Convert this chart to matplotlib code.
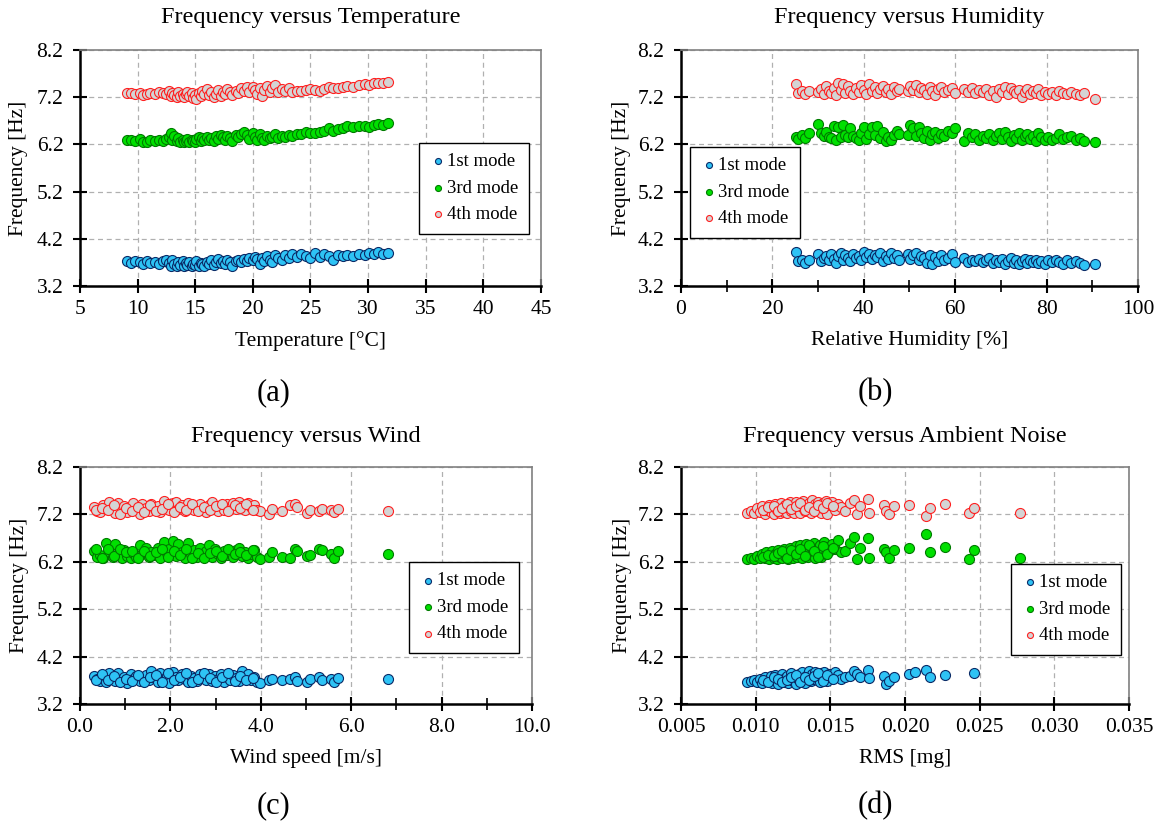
import numpy as np
import matplotlib.pyplot as plt
from matplotlib.ticker import MultipleLocator, FormatStrFormatter

plt.rcParams["font.family"] = ["Liberation Serif", "DejaVu Serif"]

nan = np.nan

# (a) temperature
TEMP = [9.1, 9.4, 9.8, 10.2, 10.5, 10.8, 11.1, 11.5, 11.9, 12.2,
        12.5, 12.7, 12.9, 13.0, 13.2, 13.4, 13.5, 13.7, 13.9, 14.0,
        14.2, 14.3, 14.5, 14.7, 14.8, 15.0, 15.1, 15.3, 15.5, 15.6,
        15.8, 16.0, 16.2, 16.4, 16.6, 16.8, 17.0, 17.2, 17.4, 17.6,
        17.8, 18.0, 18.2, 18.5, 18.7, 19.0, 19.2, 19.5, 19.7, 20.0,
        20.2, 20.4, 20.6, 20.8, 21.0, 21.2, 21.5, 21.7, 21.9, 22.2,
        22.5, 22.8, 23.1, 23.4, 23.8, 24.2, 24.6, 25.0, 25.4, 25.8,
        26.2, 26.6, 27.0, 27.4, 27.8, 28.2, 28.7, 29.2, 29.7, 30.1,
        30.5, 30.9, 31.3, 31.7]
F1_A = [3.72, 3.69, 3.73, 3.70, 3.67, 3.72, 3.68, 3.71, 3.66, 3.72,
        3.74, 3.69, 3.63, 3.75, 3.67, 3.62, 3.70, 3.65, 3.72, 3.62,
        3.68, 3.64, 3.71, 3.62, 3.67, 3.64, 3.72, 3.62, 3.69, 3.66,
        3.63, 3.71, 3.66, 3.74, 3.64, 3.70, 3.77, 3.68, 3.73, 3.66,
        3.75, 3.70, 3.63, 3.72, 3.76, 3.70, 3.78, 3.73, 3.80, 3.74,
        3.82, 3.77, 3.66, 3.79, 3.73, 3.84, 3.76, 3.70, 3.85, 3.79,
        3.74, 3.86, 3.80, 3.87, 3.82, 3.88, 3.84, 3.80, 3.89, 3.82,
        3.88, 3.84, 3.76, 3.86, 3.83, 3.85, 3.84, 3.87, 3.85, 3.90,
        3.88, 3.91, 3.87, 3.89]
F3_A = [6.29, 6.30, 6.28, 6.31, 6.26, 6.25, 6.29, 6.27, 6.30, 6.28,
        6.32, 6.35, 6.44, 6.30, 6.38, 6.27, 6.33, 6.26, 6.30, 6.25,
        6.28, 6.32, 6.26, 6.30, 6.27, 6.24, 6.31, 6.35, 6.27, 6.33,
        6.29, 6.36, 6.30, 6.34, 6.28, 6.37, 6.32, 6.40, 6.35, 6.30,
        6.38, 6.33, 6.27, 6.40, 6.35, 6.42, 6.46, 6.39, 6.31, 6.44,
        6.36, 6.30, 6.43, 6.34, 6.30, 6.38, 6.33, 6.36, 6.43, 6.34,
        6.38, 6.35, 6.40, 6.37, 6.41, 6.43, 6.46, 6.45, 6.44, 6.47,
        6.49, 6.54, 6.48, 6.52, 6.55, 6.59, 6.56, 6.58, 6.59, 6.57,
        6.62, 6.64, 6.60, 6.65]
F4_A = [7.28, 7.29, 7.27, 7.28, 7.25, 7.27, 7.29, 7.26, 7.31, 7.29,
        7.27, 7.32, 7.22, 7.29, 7.25, 7.20, 7.30, 7.23, 7.27, 7.21,
        7.26, 7.30, 7.22, 7.28, 7.19, 7.25, 7.16, 7.29, 7.23, 7.32,
        7.26, 7.38, 7.24, 7.30, 7.20, 7.27, 7.35, 7.22, 7.30, 7.26,
        7.37, 7.31, 7.25, 7.34, 7.28, 7.39, 7.33, 7.41, 7.30, 7.42,
        7.36, 7.27, 7.40, 7.22, 7.35, 7.43, 7.31, 7.39, 7.45, 7.30,
        7.37, 7.32, 7.39, 7.31, 7.34, 7.33, 7.36, 7.38, 7.35, 7.34,
        7.37, 7.42, 7.39, 7.40, 7.41, 7.43, 7.42, 7.46, 7.47, 7.45,
        7.49, 7.51, 7.50, 7.52]

# (b) humidity
HUM = [25.2, 25.6, 26.4, 27.2, 28.0, 30.0, 30.6, 31.2, 31.8, 32.3,
       32.9, 33.4, 33.9, 34.4, 35.0, 35.4, 35.9, 36.5, 37.1, 37.7,
       38.3, 38.9, 39.5, 40.1, 40.6, 41.2, 41.8, 42.4, 43.0, 43.6,
       44.2, 44.8, 45.4, 46.0, 46.6, 47.2, 47.8, 49.6, 50.2, 50.8,
       51.4, 52.0, 52.6, 53.2, 53.8, 54.4, 55.0, 55.6, 56.2, 56.8,
       57.6, 58.4, 59.4, 60.0, 62.0, 62.8, 63.6, 64.4, 65.2, 66.0,
       66.8, 67.5, 68.2, 68.9, 69.6, 70.3, 71.0, 71.6, 72.2, 72.8,
       73.4, 74.0, 74.6, 75.2, 75.8, 76.4, 77.0, 77.6, 78.2, 78.8,
       79.6, 80.4, 81.2, 82.0, 82.8, 83.6, 84.4, 85.4, 86.4, 87.4,
       88.2, 90.5]
F1_B = [3.93, 3.72, 3.76, 3.69, 3.75, 3.87, 3.72, 3.79, 3.84, 3.74,
        3.88, 3.78, 3.69, 3.83, 3.90, 3.76, 3.85, 3.80, 3.73, 3.88,
        3.79, 3.84, 3.75, 3.91, 3.82, 3.87, 3.78, 3.85, 3.81, 3.89,
        3.73, 3.84, 3.77, 3.90, 3.80, 3.86, 3.76, 3.88, 3.78, 3.85,
        3.90, 3.74, 3.83, 3.79, 3.69, 3.86, 3.66, 3.81, 3.72, 3.85,
        3.75, 3.80, 3.88, 3.71, 3.80, 3.70, 3.76, 3.73, 3.78, 3.71,
        3.74, 3.79, 3.68, 3.75, 3.70, 3.77, 3.67, 3.73, 3.79, 3.69,
        3.75, 3.66, 3.72, 3.78, 3.68, 3.74, 3.70, 3.76, 3.69, 3.73,
        3.67, 3.75, 3.71, 3.76, 3.70, 3.66, 3.74, 3.69, 3.72, 3.68,
        3.65, 3.67]
F3_B = [6.35, 6.31, 6.40, 6.33, 6.45, 6.63, 6.45, 6.38, 6.47, 6.36,
        6.34, 6.58, 6.30, 6.57, 6.36, 6.60, 6.40, 6.35, 6.55, 6.38,
        6.34, 6.29, 6.44, 6.56, 6.32, 6.41, 6.57, 6.39, 6.58, 6.33,
        6.46, 6.28, 6.35, 6.29, 6.40, 6.48, 6.43, 6.40, 6.61, 6.55,
        6.37, 6.57, 6.45, 6.33, 6.48, 6.30, 6.41, 6.46, 6.34, 6.43,
        6.38, 6.49, 6.44, 6.55, 6.27, 6.45, 6.35, 6.41, 6.30, 6.38,
        6.33, 6.42, 6.29, 6.38, 6.44, 6.31, 6.47, 6.35, 6.28, 6.40,
        6.34, 6.45, 6.30, 6.37, 6.42, 6.32, 6.38, 6.28, 6.44, 6.35,
        6.30, 6.36, 6.29, 6.33, 6.42, 6.31, 6.35, 6.38, 6.30, 6.33,
        6.27, 6.25]
F4_B = [7.48, 7.29, 7.34, 7.27, 7.33, 7.30, 7.38, 7.27, 7.43, 7.34,
        7.29, 7.40, 7.24, 7.49, 7.35, 7.47, 7.29, 7.43, 7.33, 7.27,
        7.40, 7.30, 7.45, 7.36, 7.27, 7.47, 7.32, 7.42, 7.28, 7.37,
        7.44, 7.30, 7.38, 7.26, 7.42, 7.33, 7.37, 7.32, 7.44, 7.36,
        7.45, 7.30, 7.40, 7.35, 7.27, 7.41, 7.33, 7.24, 7.38, 7.42,
        7.30, 7.36, 7.40, 7.29, 7.37, 7.31, 7.40, 7.28, 7.35, 7.30,
        7.38, 7.25, 7.34, 7.21, 7.37, 7.30, 7.42, 7.26, 7.40, 7.33,
        7.28, 7.36, 7.20, 7.31, 7.38, 7.26, 7.33, 7.29, 7.37, 7.24,
        7.31, 7.27, 7.30, 7.25, 7.32, 7.28, 7.26, 7.30, 7.27, 7.25,
        7.28, 7.16]

# (c) wind speed
WIND = [0.30, 0.38, 0.45, 0.52, 0.58, 0.65, 0.72, 0.78, 0.85, 0.92,
        0.98, 1.05, 1.12, 1.18, 1.25, 1.32, 1.38, 1.45, 1.52, 1.58,
        1.65, 1.72, 1.78, 1.85, 1.92, 1.98, 2.05, 2.12, 2.18, 2.25,
        2.32, 2.38, 2.45, 2.52, 2.58, 2.65, 2.72, 2.78, 2.85, 2.92,
        2.98, 3.05, 3.12, 3.18, 3.25, 3.32, 3.38, 3.45, 3.52, 3.58,
        3.65, 3.72, 3.78, 3.85, 3.92, 3.98, 4.18, 4.25, 4.48, 4.65,
        4.75, 4.80, 5.02, 5.08, 5.28, 5.35, 5.55, 5.62, 5.70, 6.82,
        0.35, 0.48, 0.62, 0.75, 0.88, 1.02, 1.15, 1.28, 1.42, 1.55,
        1.68, 1.82, 1.95, 2.08, 2.22, 2.35, 2.48, 2.62, 2.75, 2.88,
        3.02, 3.15, 3.28, 3.42, 3.55, 3.68, 3.82]
F1_C = [3.80, 3.72, 3.68, 3.78, 3.66, 3.86, 3.74, 3.69, 3.85, 3.71,
        3.78, 3.64, 3.84, 3.73, 3.79, 3.68, 3.76, 3.81, 3.70, 3.89,
        3.74, 3.67, 3.85, 3.72, 3.79, 3.65, 3.87, 3.76, 3.70, 3.84,
        3.73, 3.66, 3.80, 3.74, 3.68, 3.84, 3.77, 3.71, 3.83, 3.69,
        3.79, 3.73, 3.84, 3.67, 3.78, 3.71, 3.81, 3.74, 3.69, 3.89,
        3.76, 3.83, 3.70, 3.77, 3.67, 3.64, 3.70, 3.73, 3.71, 3.72,
        3.78, 3.69, 3.67, 3.72, 3.76, 3.70, 3.73, 3.66, 3.74, 3.72,
        3.70, 3.83, 3.71, 3.80, 3.66, 3.73, 3.69, 3.82, 3.66, 3.76,
        3.82, 3.67, 3.86, 3.70, 3.78, 3.85, 3.67, 3.72, 3.86, 3.75,
        3.66, 3.76, 3.85, 3.68, 3.80, 3.71, 3.74]
F3_C = [6.42, 6.30, 6.35, 6.27, 6.60, 6.40, 6.31, 6.58, 6.36, 6.28,
        6.45, 6.33, 6.27, 6.38, 6.31, 6.55, 6.36, 6.49, 6.30, 6.41,
        6.34, 6.50, 6.29, 6.62, 6.38, 6.46, 6.64, 6.33, 6.57, 6.40,
        6.29, 6.60, 6.36, 6.44, 6.30, 6.49, 6.35, 6.42, 6.56, 6.31,
        6.47, 6.37, 6.28, 6.43, 6.34, 6.39, 6.30, 6.45, 6.50, 6.33,
        6.40, 6.28, 6.37, 6.44, 6.30, 6.26, 6.31, 6.41, 6.31, 6.29,
        6.47, 6.42, 6.32, 6.34, 6.48, 6.44, 6.36, 6.29, 6.43, 6.37,
        6.47, 6.29, 6.48, 6.32, 6.46, 6.40, 6.43, 6.29, 6.42, 6.33,
        6.40, 6.47, 6.31, 6.42, 6.35, 6.46, 6.27, 6.39, 6.29, 6.38,
        6.42, 6.32, 6.46, 6.36, 6.41, 6.34, 6.45]
F4_C = [7.35, 7.28, 7.26, 7.40, 7.31, 7.47, 7.36, 7.22, 7.45, 7.30,
        7.38, 7.25, 7.33, 7.44, 7.29, 7.21, 7.41, 7.34, 7.27, 7.43,
        7.31, 7.38, 7.25, 7.49, 7.35, 7.29, 7.44, 7.47, 7.32, 7.40,
        7.27, 7.44, 7.35, 7.29, 7.38, 7.42, 7.31, 7.26, 7.40, 7.46,
        7.33, 7.28, 7.39, 7.30, 7.43, 7.35, 7.45, 7.32, 7.47, 7.38,
        7.30, 7.44, 7.35, 7.39, 7.30, 7.27, 7.21, 7.32, 7.27, 7.40,
        7.42, 7.35, 7.22, 7.30, 7.28, 7.31, 7.29, 7.25, 7.32, 7.28,
        7.30, 7.34, 7.29, 7.40, 7.20, 7.33, 7.27, 7.36, 7.25, 7.39,
        7.28, 7.32, 7.42, 7.26, 7.36, 7.30, 7.41, 7.27, 7.35, 7.30,
        7.37, 7.43, 7.27, 7.40, 7.33, 7.41, 7.29]

# (d) ambient noise RMS
RMS = [0.0094, 0.0097, 0.0099, 0.0101, 0.0103, 0.0104, 0.0106, 0.0107, 0.0109, 0.0110,
       0.0111, 0.0112, 0.0113, 0.0114, 0.0115, 0.0116, 0.0117, 0.0118, 0.0119, 0.0120,
       0.0121, 0.0122, 0.0123, 0.0124, 0.0125, 0.0126, 0.0127, 0.0128, 0.0129, 0.0130,
       0.0131, 0.0132, 0.0133, 0.0134, 0.0135, 0.0136, 0.0137, 0.0138, 0.0139, 0.0140,
       0.0141, 0.0142, 0.0143, 0.0144, 0.0145, 0.0146, 0.0147, 0.0148, 0.0149, 0.0151,
       0.0153, 0.0155, 0.0157, 0.0160, 0.0163, 0.0166, 0.0168, 0.0170, 0.0175, 0.0176,
       0.0186, 0.0187, 0.0189, 0.0193, 0.0203, 0.0207, 0.0214, 0.0217, 0.0227, 0.0243,
       0.0246, 0.0277,
       0.0105, 0.0108, 0.0112, 0.0115, 0.0118, 0.0121, 0.0124, 0.0127, 0.0130, 0.0133,
       0.0136, 0.0139, 0.0142, 0.0145, 0.0148, 0.0152]
F1_D = [3.67, 3.68, 3.70, 3.66, 3.72, 3.64, 3.76, 3.68, 3.71, 3.79,
        3.65, 3.74, 3.82, 3.69, 3.63, 3.77, 3.71, 3.84, 3.66, 3.75,
        3.80, 3.64, 3.72, 3.85, 3.68, 3.78, 3.63, 3.74, 3.83, 3.69,
        3.87, 3.72, 3.65, 3.80, 3.76, 3.89, 3.68, 3.83, 3.73, 3.87,
        3.70, 3.79, 3.66, 3.85, 3.74, 3.88, 3.78, 3.69, 3.84, 3.76,
        3.88, 3.81, 3.72, 3.76, 3.80, 3.89, 3.83, 3.76, 3.92, 3.74,
        3.80, 3.63, 3.68, 3.77, 3.83, 3.87, 3.92, 3.76, 3.81, nan,
        3.85, nan,
        3.70, 3.66, 3.78, 3.73, 3.67, 3.71, 3.77, 3.82, 3.66, 3.76,
        3.71, 3.80, 3.86, 3.68, 3.81, 3.72]
F3_D = [6.25, 6.28, 6.26, 6.32, 6.27, 6.36, 6.29, 6.40, 6.25, 6.34,
        6.42, 6.28, 6.37, 6.26, 6.45, 6.31, 6.39, 6.27, 6.47, 6.33,
        6.41, 6.26, 6.50, 6.35, 6.29, 6.44, 6.53, 6.31, 6.40, 6.56,
        6.27, 6.48, 6.36, 6.58, 6.30, 6.45, 6.52, 6.34, 6.60, 6.28,
        6.49, 6.39, 6.56, 6.31, 6.46, 6.61, 6.37, 6.52, 6.43, 6.58,
        6.47, 6.67, 6.40, 6.42, 6.60, 6.72, 6.26, 6.50, 6.70, 6.27,
        6.48, 6.41, 6.28, 6.45, 6.50, nan, 6.78, 6.40, 6.52, 6.25,
        6.44, 6.28,
        6.31, 6.35, 6.32, 6.38, 6.42, 6.29, 6.44, 6.36, 6.47, 6.33,
        6.55, 6.42, 6.30, 6.54, 6.36, 6.50]
F4_D = [7.24, 7.28, 7.22, 7.33, 7.26, 7.37, 7.21, 7.30, 7.40, 7.25,
        7.34, 7.20, 7.42, 7.29, 7.36, 7.23, 7.44, 7.31, 7.26, 7.39,
        7.22, 7.35, 7.46, 7.28, 7.38, 7.24, 7.47, 7.32, 7.41, 7.22,
        7.36, 7.48, 7.27, 7.39, 7.31, 7.45, 7.23, 7.50, 7.34, 7.42,
        7.27, 7.47, 7.36, 7.24, 7.44, 7.32, 7.49, 7.21, 7.39, 7.46,
        7.30, 7.43, 7.35, 7.28, 7.45, 7.51, 7.20, 7.38, 7.53, 7.23,
        7.40, 7.28, 7.21, 7.38, 7.39, nan, 7.16, 7.33, 7.43, 7.24,
        7.34, 7.22,
        7.30, 7.35, 7.38, 7.27, 7.33, 7.43, 7.31, 7.37, 7.44, 7.29,
        7.36, 7.27, 7.40, 7.33, 7.45, 7.37]

MODE_NAMES = ["1st mode", "3rd mode", "4th mode"]
FACE = ["#2EC3F5", "#00E000", "#D4D4D4"]
EDGE = ["#0A2A66", "#007A00", "#FF2020"]
Y_TICKS = [3.2, 4.2, 5.2, 6.2, 7.2, 8.2]


def draw_panel(ax, x, modes, title, xlabel, xlim, xmajor, xminor, fmt,
               leg_loc, leg_anchor, title_y, xlabel_y, ylabel_x):
    for y, name, fc, ec in zip(modes, MODE_NAMES, FACE, EDGE):
        ax.scatter(x, y, s=52, facecolor=fc, edgecolor=ec, linewidth=0.8,
                   label=name, zorder=3)
    ax.set_xlim(*xlim)
    ax.set_ylim(3.2, 8.2)
    ax.xaxis.set_major_locator(MultipleLocator(xmajor))
    if xminor:
        ax.xaxis.set_minor_locator(MultipleLocator(xminor))
    ax.xaxis.set_major_formatter(FormatStrFormatter(fmt))
    ax.set_yticks(Y_TICKS)
    ax.yaxis.set_major_formatter(FormatStrFormatter("%.1f"))
    ax.grid(True, which="major", linestyle=(0, (4, 3)), color="#B0B0B0",
            linewidth=0.9, zorder=0)
    ax.set_axisbelow(True)
    for side in ["left", "bottom"]:
        ax.spines[side].set_linewidth(1.8)
        ax.spines[side].set_color("black")
    for side in ["top", "right"]:
        ax.spines[side].set_linewidth(1.2)
        ax.spines[side].set_color("#808080")
    ax.tick_params(axis="x", which="major", direction="inout", length=10,
                   width=1.5, labelsize=15.5, pad=5)
    ax.tick_params(axis="x", which="minor", direction="inout", length=8, width=1.2)
    ax.tick_params(axis="y", which="major", direction="inout", length=10,
                   width=1.5, labelsize=15.5, pad=7)
    ax.text(0.5, title_y, title, transform=ax.transAxes, ha="center",
            va="center", fontsize=17.5)
    ax.set_xlabel(xlabel, fontsize=15.5)
    ax.xaxis.set_label_coords(0.5, xlabel_y)
    ax.xaxis.label.set_va("center")
    ax.set_ylabel("Frequency [Hz]", fontsize=15.5)
    ax.yaxis.set_label_coords(ylabel_x, 0.5)
    ax.yaxis.label.set_va("center")
    leg = ax.legend(loc=leg_loc, bbox_to_anchor=leg_anchor, fontsize=13.5,
                    markerscale=0.6, handletextpad=0.05, borderpad=0.55,
                    borderaxespad=0, labelspacing=0.5, fancybox=False,
                    framealpha=1, edgecolor="black", handlelength=0.9)
    leg.get_frame().set_linewidth(1.0)


fig = plt.figure(figsize=(11.64, 8.27), dpi=100)
ax_a = fig.add_axes([0.0687, 0.6542, 0.396, 0.2854])
ax_b = fig.add_axes([0.585, 0.6542, 0.3926, 0.2854])
ax_c = fig.add_axes([0.0687, 0.1487, 0.3883, 0.2866])
ax_d = fig.add_axes([0.585, 0.1487, 0.3849, 0.2866])

draw_panel(ax_a, TEMP, [F1_A, F3_A, F4_A], "Frequency versus Temperature",
           "Temperature [\u00b0C]", (5, 45), 5, None, "%d",
           "upper right", (0.974, 0.606), 1.136, -0.233, -0.133)
draw_panel(ax_b, HUM, [F1_B, F3_B, F4_B], "Frequency versus Humidity",
           "Relative Humidity [%]", (0, 100), 20, 10, "%d",
           "upper left", (0.02, 0.589), 1.136, -0.233, -0.131)
draw_panel(ax_c, WIND, [F1_C, F3_C, F4_C], "Frequency versus Wind",
           "Wind speed [m/s]", (0, 10), 2.0, 1.0, "%.1f",
           "upper right", (0.971, 0.599), 1.13, -0.228, -0.133)
draw_panel(ax_d, RMS, [F1_D, F3_D, F4_D], "Frequency versus Ambient Noise",
           "RMS [mg]", (0.005, 0.035), 0.005, None, "%.3f",
           "upper right", (0.982, 0.591), 1.13, -0.228, -0.131)

for letter, px, py in [("(a)", 274, 393), ("(b)", 875, 393),
                       ("(c)", 274, 806), ("(d)", 875, 806)]:
    fig.text(px / 1164, 1 - py / 827, letter, ha="center", va="center",
             fontsize=22)

fig.savefig("out.png", dpi=100)
